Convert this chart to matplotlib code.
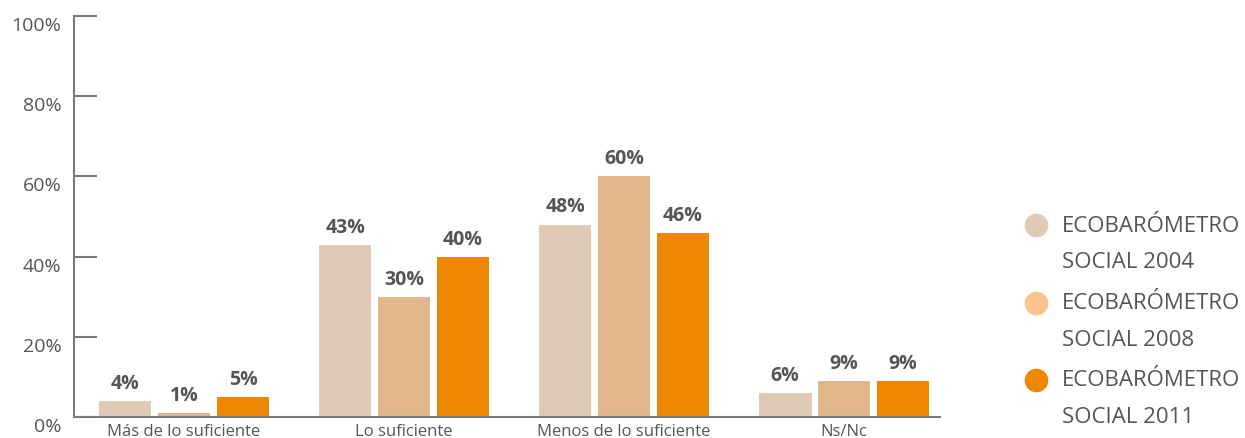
import matplotlib.pyplot as plt
import numpy as np
from matplotlib.lines import Line2D

plt.rcParams['font.family'] = ['Open Sans', 'DejaVu Sans']

categories = ["Más de lo suficiente", "Lo suficiente", "Menos de lo suficiente", "Ns/Nc"]
series_names = ["ECOBARÓMETRO\nSOCIAL 2004", "ECOBARÓMETRO\nSOCIAL 2008", "ECOBARÓMETRO\nSOCIAL 2011"]
values_2004 = [4, 43, 48, 6]
values_2008 = [1, 30, 60, 9]
values_2011 = [5, 40, 46, 9]
yticks = [0, 20, 40, 60, 80, 100]

bar_colors = ["#dfcab5", "#e2b78b", "#ef8800"]
legend_colors = ["#dfcab5", "#f9c58c", "#ef8800"]
text_gray = "#555555"
axis_gray = "#7a7a7a"

W, H = 1245, 439
fig = plt.figure(figsize=(W / 100, H / 100), dpi=100)
ax = fig.add_axes([74 / W, 21 / H, 866 / W, 401 / H])

x = np.arange(len(categories))
offset = 0.268
width = 0.24
for i, vals in enumerate([values_2004, values_2008, values_2011]):
    pos = x + (i - 1) * offset
    ax.bar(pos, vals, width=width, color=bar_colors[i], zorder=2)
    for p, v in zip(pos, vals):
        ax.text(p, v + 2.0, f"{v}%", ha="center", va="bottom",
                fontsize=14, fontweight="bold", color=text_gray)

ax.set_xlim(-0.5, 3.436)
ax.set_ylim(0, 100)
ax.set_yticks(yticks)
ax.set_yticklabels([f"{t}%" for t in yticks])
for lab in ax.get_yticklabels():
    lab.set_va("top")
ax.set_xticks(x)
ax.set_xticklabels(categories)
ax.tick_params(axis="y", direction="in", length=16.5, width=1.5, color=axis_gray,
               labelsize=14, labelcolor=text_gray, pad=9)
ax.tick_params(axis="x", length=0, labelsize=12, labelcolor=text_gray, pad=4)
for s in ["top", "right"]:
    ax.spines[s].set_visible(False)
for s in ["left", "bottom"]:
    ax.spines[s].set_color(axis_gray)
    ax.spines[s].set_linewidth(1.5)

# legend drawn by hand: dot beside the first line of each two-line label
for i, (name, c) in enumerate(zip(series_names, legend_colors)):
    y_top = 226 + i * 77.5
    fig.add_artist(Line2D([1036 / W], [1 - y_top / H], marker="o", linestyle="",
                          markersize=16, markerfacecolor=c, markeredgecolor=c,
                          transform=fig.transFigure))
    for j, line in enumerate(name.split("\n")):
        fig.text(1062 / W, 1 - (y_top + j * 37) / H, line, ha="left", va="center",
                 fontsize=16, color=text_gray)

fig.savefig("out.png", dpi=100)
